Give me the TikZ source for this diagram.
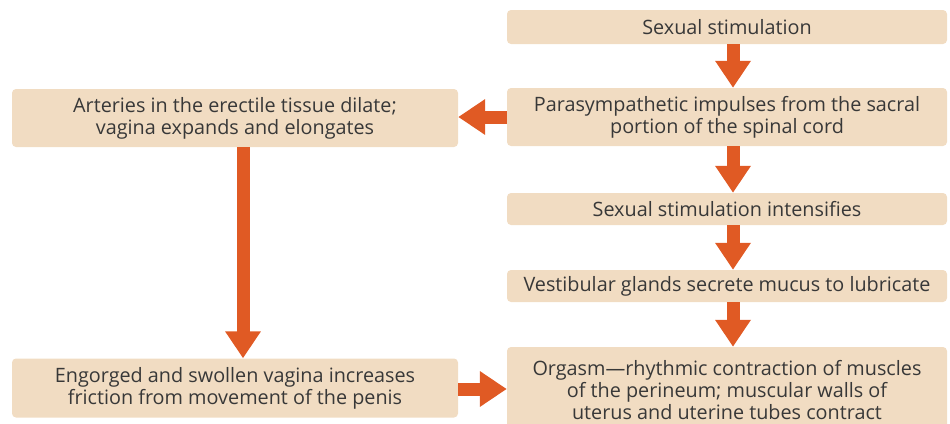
\documentclass[tikz,border=0pt]{standalone}
\usepackage{fontspec}
\setmainfont{Open Sans}
\usetikzlibrary{arrows.meta}
\definecolor{boxtan}{HTML}{F1DCC2}
\definecolor{arroworange}{HTML}{E05A24}
\definecolor{textgray}{HTML}{383838}
\tikzset{
    stepbox/.style={fill=boxtan, rounded corners=4pt, align=center, inner sep=0pt,
        text=textgray, font=\fontsize{19.8}{22}\selectfont},
    flow/.style={draw=arroworange, line width=13pt, -{Triangle[width=34pt,length=27pt]}},
}
\begin{document}
\begin{tikzpicture}[x=1pt, y=-1pt]
            \useasboundingbox (0,0) rectangle (950,423);
            \node[stepbox, minimum width=440, minimum height=34] (stim) at (727,27) {Sexual stimulation};
            \node[stepbox, minimum width=440, minimum height=58] (para) at (727,117) {Parasympathetic impulses from the sacral\\portion of the spinal cord};
            \node[stepbox, minimum width=446, minimum height=58] (dilate) at (235,118) {Arteries in the erectile tissue dilate;\\vagina expands and elongates};
            \node[stepbox, minimum width=440, minimum height=32] (inten) at (727,209) {Sexual stimulation intensifies};
            \node[stepbox, minimum width=440, minimum height=32] (gland) at (727,286) {Vestibular glands secrete mucus to lubricate};
            \node[stepbox, minimum width=446, minimum height=59] (swell) at (235,388) {Engorged and swollen vagina increases\\friction from movement of the penis};
            \node[stepbox, minimum width=440, minimum height=86] (orgasm) at (727,390) {Orgasm---rhythmic contraction of muscles\\of the perineum; muscular walls of\\uterus and uterine tubes contract};
            \draw[flow] (stim.south -| 733,0) -- (para.north -| 733,0);
            \draw[flow] (para.west |- 0,117) -- (dilate.east |- 0,117);
            \draw[flow] (para.south -| 733,0) -- (inten.north -| 733,0);
            \draw[flow] (inten.south -| 733,0) -- (gland.north -| 733,0);
            \draw[flow] (gland.south -| 733,0) -- (orgasm.north -| 733,0);
            \draw[flow] (dilate.south -| 243,0) -- (swell.north -| 243,0);
            \draw[flow] (swell.east |- 0,389) -- (orgasm.west |- 0,389);
        \end{tikzpicture}
\end{document}
